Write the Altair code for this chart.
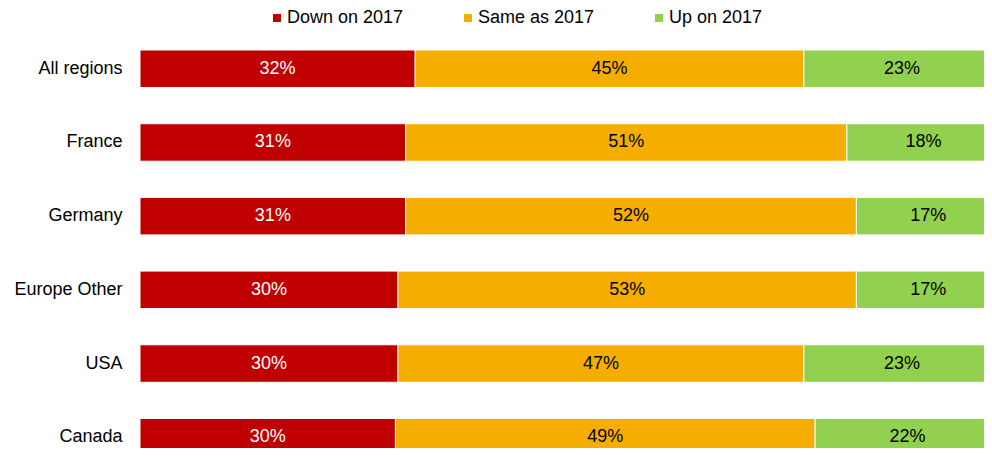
import altair as alt
import pandas as pd

regions = ["All regions", "France", "Germany", "Europe Other", "USA", "Canada"]
categories = ["Down on 2017", "Same as 2017", "Up on 2017"]
down = [32.0, 30.9, 30.9, 30.0, 30.0, 29.7]
same = [45.2, 51.3, 52.4, 53.3, 47.2, 48.8]
up = [22.8, 17.8, 16.7, 16.7, 22.8, 21.5]
colors = ["#C00000", "#F5AE00", "#92D050"]

rows = []
for i, r in enumerate(regions):
    for j, (c, vals) in enumerate(zip(categories, [down, same, up])):
        rows.append({"region": r, "category": c, "value": vals[i], "order": j})
df = pd.DataFrame(rows)

FONT = "Liberation Sans"

base = alt.Chart(df).transform_stack(
    stack="value", groupby=["region"], as_=["x0", "x1"],
    sort=[alt.SortField("order", order="ascending")]
).transform_calculate(
    mid="(datum.x0 + datum.x1) / 2",
    label="format(datum.value, '.0f') + '%'"
)

y_enc = alt.Y(
    "region:N", sort=regions, title=None,
    scale=alt.Scale(paddingInner=0.491, paddingOuter=0.258, range=[0, 444]),
    axis=alt.Axis(ticks=False, domain=False, labelPadding=18, labelFontSize=18,
                  labelFont=FONT, labelColor="#000000", minExtent=132, maxExtent=132),
)

bars = base.mark_bar(stroke="white", strokeWidth=1).encode(
    x=alt.X("x0:Q", scale=alt.Scale(domain=[0, 100], range=[0, 860]), axis=None),
    x2="x1:Q",
    y=y_enc,
    color=alt.Color(
        "category:N",
        scale=alt.Scale(domain=categories, range=colors),
        legend=alt.Legend(
            orient="none", legendX=128, legendY=-22, direction="horizontal",
            columns=3, title=None, symbolType="square", symbolSize=64,
            symbolStrokeWidth=0, labelFontSize=18, labelFont=FONT,
            labelColor="#000000", labelOffset=1, columnPadding=55,
        ),
    ),
)

texts = base.mark_text(fontSize=18, font=FONT, baseline="middle", align="center").encode(
    x=alt.X("mid:Q"),
    y=alt.Y("region:N", sort=regions),
    text="label:N",
    color=alt.condition(alt.datum.category == "Down on 2017",
                        alt.value("white"), alt.value("black")),
)

chart = alt.layer(bars, texts).properties(
    width=844, height=417,
    padding={"left": 132, "top": 23, "right": 0, "bottom": 0},
    autosize=alt.AutoSizeParams(type="none"),
).configure_view(stroke=None)

chart.save("out.html", embed_options={"renderer": "svg", "actions": False})
